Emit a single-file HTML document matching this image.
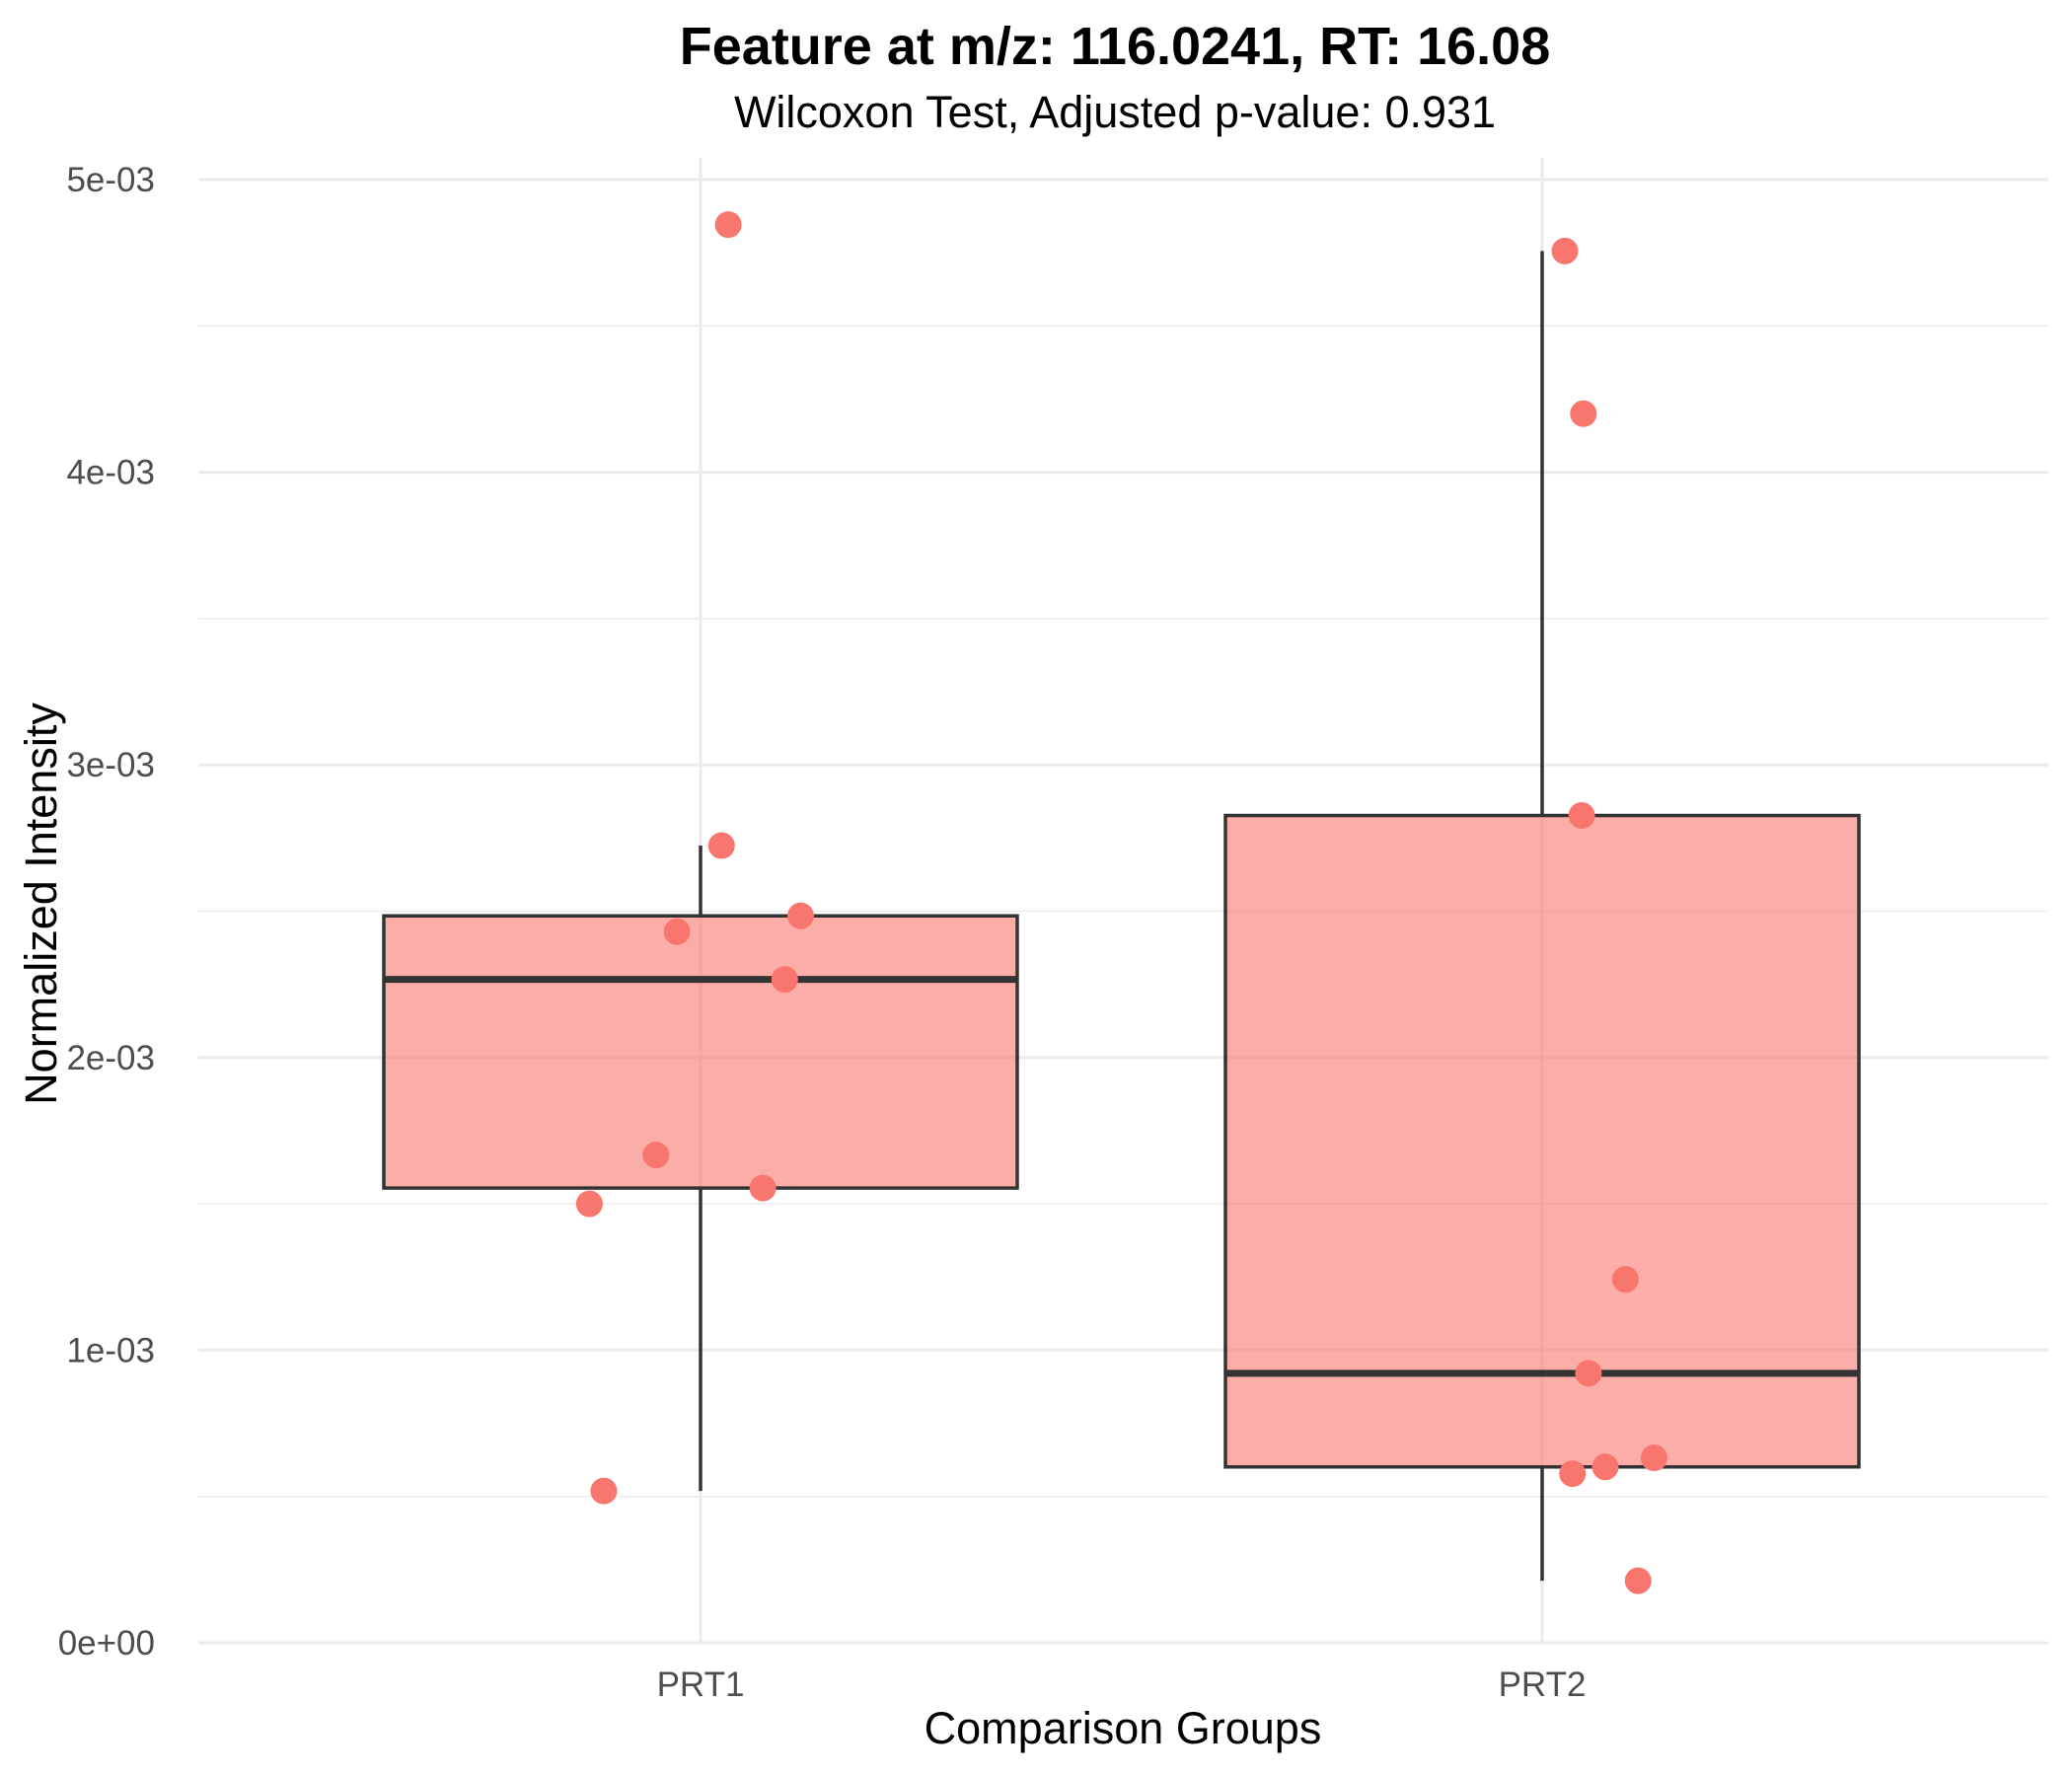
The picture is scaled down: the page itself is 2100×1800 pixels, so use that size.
<!DOCTYPE html>
<html><head><meta charset="utf-8"><style>
body{margin:0;background:#fff;}
svg{display:block;font-family:"Liberation Sans",Arial,sans-serif;}
</style></head><body>
<svg id="chart" width="2100" height="1800" viewBox="0 0 2100 1800">
<text x="1130" y="65" text-anchor="middle" font-size="54" font-weight="bold" fill="#000">Feature at m/z: 116.0241, RT: 16.08</text>
<text x="1130" y="129" text-anchor="middle" font-size="45" fill="#000">Wilcoxon Test, Adjusted p-value: 0.931</text>
<g id="grid"></g><g id="marks"></g><g id="axes"></g>
<text x="1138" y="1767" text-anchor="middle" font-size="45" fill="#000">Comparison Groups</text>
<text transform="translate(57,916) rotate(-90)" text-anchor="middle" font-size="45" fill="#000">Normalized Intensity</text>
</svg>
<script>
const categories=["PRT1","PRT2"];
const yTicks=[0,0.001,0.002,0.003,0.004,0.005];
const yTickLabels=["0e+00","1e-03","2e-03","3e-03","4e-03","5e-03"];
const boxMin=[0.000519,0.000212];
const boxQ1=[0.001554,0.000601];
const boxMedian=[0.002267,0.000921];
const boxQ3=[0.002484,0.002827];
const boxMax=[0.002724,0.004756];
const pointGroup=[0,0,0,0,0,0,0,0,0,1,1,1,1,1,1,1,1,1];
const pointValue=[0.004846,0.002724,0.002484,0.00243,0.002267,0.001667,0.001554,0.0015,0.000519,0.004756,0.0042,0.002827,0.001242,0.000921,0.000601,0.000578,0.000632,0.000212];
const pointJitter=[0.033,0.025,0.119,-0.028,0.100,-0.053,0.074,-0.132,-0.115,0.027,0.049,0.047,0.099,0.055,0.075,0.036,0.133,0.114];

const NS="http://www.w3.org/2000/svg";
const L=201,R=2076,T=160,B=1665;
const yS=v=>B-v/0.005*(1665-182);
const xS=c=>710+(c)*(1563-710);
function mk(tag,attrs,parent){const e=document.createElementNS(NS,tag);for(const k in attrs)e.setAttribute(k,attrs[k]);document.getElementById(parent).appendChild(e);return e;}
for(let i=0;i<yTicks.length;i++){
  const y=yS(yTicks[i]);
  const g=mk('line',{x1:L,x2:R,y1:y,y2:y,stroke:'#ebebeb','stroke-width':3},'grid');
  
  
  if(i<yTicks.length-1){const ym=yS((yTicks[i]+yTicks[i+1])/2);
    const m=mk('line',{x1:L,x2:R,y1:ym,y2:ym,stroke:'#ebebeb','stroke-width':1.5},'grid');
    
    }
  const t=mk('text',{x:157,y:y+12,'text-anchor':'end','font-size':35,fill:'#4d4d4d'},'axes');t.textContent=yTickLabels[i];
  
  
}
categories.forEach((c,i)=>{
  const x=xS(i);
  const g=mk('line',{x1:x,x2:x,y1:T,y2:B,stroke:'#ebebeb','stroke-width':3},'grid');
  
  
  const t=mk('text',{x:x,y:B+54,'text-anchor':'middle','font-size':35,fill:'#4d4d4d'},'axes');t.textContent=c;
  
  
  const wu=mk('line',{x1:x,x2:x,y1:yS(boxMax[i]),y2:yS(boxQ3[i]),stroke:'#333','stroke-width':3.5},'marks');
  
  
  const wl=mk('line',{x1:x,x2:x,y1:yS(boxQ1[i]),y2:yS(boxMin[i]),stroke:'#333','stroke-width':3.5},'marks');
  
  
  const b=mk('rect',{x:x-321,y:yS(boxQ3[i]),width:642,height:yS(boxQ1[i])-yS(boxQ3[i]),fill:'rgba(248,118,109,0.6)',stroke:'#333','stroke-width':3.5},'marks');
  
  
  const m=mk('line',{x1:x-321,x2:x+321,y1:yS(boxMedian[i]),y2:yS(boxMedian[i]),stroke:'#333','stroke-width':7},'marks');
  
  
});
pointValue.forEach((v,k)=>{
  const p=mk('circle',{cx:xS(pointGroup[k]+pointJitter[k]),cy:yS(v),r:13.5,fill:'#F8766D'},'marks');
  
  
});
</script>
</body></html>
